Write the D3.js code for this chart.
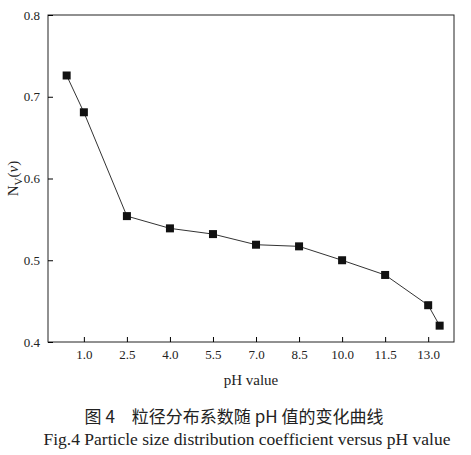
<!DOCTYPE html><html><head><meta charset="utf-8"><script src="https://cdn.jsdelivr.net/npm/d3@7"></script>
<style>body{margin:0;background:#fff}text{font-family:"Liberation Serif",serif;fill:#222}</style></head><body><svg width="471" height="455"></svg><script>
const phValues=[0.4,1.0,2.5,4.0,5.5,7.0,8.5,10.0,11.5,13.0,13.4];
const npValues=[0.726,0.681,0.554,0.539,0.532,0.519,0.517,0.500,0.482,0.445,0.420];
const xTicks=[1.0,2.5,4.0,5.5,7.0,8.5,10.0,11.5,13.0];
const yTicks=[0.4,0.5,0.6,0.7,0.8];
const svg=d3.select("svg");
const L=48,R=454,T=15,B=342;
const x=d3.scaleLinear().domain([-0.25,13.9]).range([L,R]);
const y=d3.scaleLinear().domain([0.4,0.8]).range([B,T]);
svg.append("rect").attr("x",L).attr("y",T).attr("width",R-L).attr("height",B-T).attr("fill","none").attr("stroke","#222");
svg.append("g").attr("transform",`translate(0,${B})`).call(d3.axisBottom(x).tickValues(xTicks).tickFormat(d3.format(".1f")).tickSizeInner(-5).tickSizeOuter(0).tickPadding(8)).call(g=>{g.select(".domain").remove();g.selectAll("text").attr("font-size",13).style("font-family","Liberation Serif")});
svg.append("g").attr("transform",`translate(${L},0)`).call(d3.axisLeft(y).tickValues(yTicks).tickFormat(d3.format(".1f")).tickSizeInner(-5).tickSizeOuter(0).tickPadding(8)).call(g=>{g.select(".domain").remove();g.selectAll("text").attr("font-size",13).style("font-family","Liberation Serif")});
const pts=phValues.map((v,i)=>[v,npValues[i]]);
svg.append("path").datum(pts).attr("fill","none").attr("stroke","#333").attr("stroke-width",1).attr("d",d3.line().x(d=>x(d[0])).y(d=>y(d[1])));
svg.selectAll("rect.p").data(pts).enter().append("rect").attr("x",d=>x(d[0])-4).attr("y",d=>y(d[1])-4).attr("width",8).attr("height",8).attr("fill","#111");
svg.append("text").attr("x",(L+R)/2).attr("y",385).attr("text-anchor","middle").attr("font-size",15).text("pH value");
svg.append("text").attr("transform",`translate(18,${(T+B)/2}) rotate(-90)`).attr("text-anchor","middle").attr("font-size",15).html('N<tspan font-size="11" dy="4">V</tspan><tspan dy="-4">(</tspan><tspan font-style="italic">v</tspan>)');
svg.append("text").attr("x",234).attr("y",423).attr("text-anchor","middle").attr("font-size",17).style("font-family","'Noto Sans CJK SC'").text("图 4　粒径分布系数随 pH 值的变化曲线");
svg.append("text").attr("x",247).attr("y",445).attr("text-anchor","middle").attr("font-size",17.5).text("Fig.4   Particle size distribution coefficient versus pH value");
</script></body></html>
